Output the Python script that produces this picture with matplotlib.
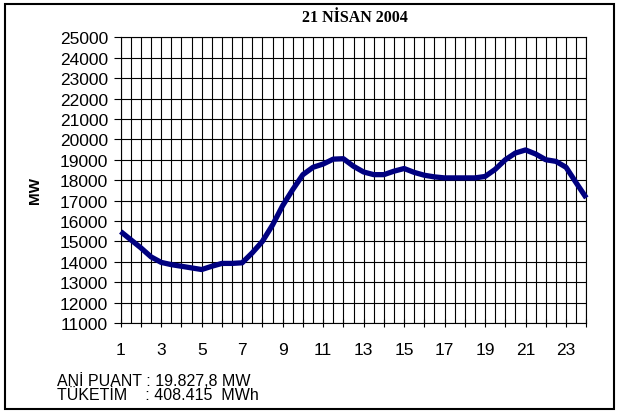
import matplotlib
matplotlib.use("Agg")
import matplotlib.pyplot as plt
from matplotlib.patches import Rectangle
import numpy as np

title = "21 NİSAN 2004"
ylabel = "MW"
hours = [1 + 0.5 * i for i in range(47)]
load_mw = [15480, 15080, 14680, 14240, 13970, 13860, 13780, 13700, 13620, 13780,
           13920, 13920, 13950, 14440, 15000, 15800, 16750, 17540, 18270, 18630,
           18790, 19030, 19050, 18680, 18400, 18270, 18270, 18440, 18570, 18380,
           18240, 18160, 18110, 18110, 18110, 18110, 18180, 18530, 19000, 19330,
           19480, 19280, 19000, 18920, 18630, 17870, 17130]
xtick_labels = [str(h) for h in range(1, 24, 2)]
yticks = list(range(11000, 25001, 1000))
footer_lines = ["ANİ PUANT : 19.827,8 MW", "TÜKETİM    : 408.415  MWh"]

W, H = 629, 414
fig = plt.figure(figsize=(W / 100, H / 100), dpi=100)
fig.patch.set_facecolor("white")

# outer frame
fig.add_artist(Rectangle((5 / W, 4 / H), (614 - 5) / W, (409 - 4) / H,
                         transform=fig.transFigure, fill=False,
                         edgecolor="black", linewidth=1.5))

ax = fig.add_axes([120.7 / W, 1 - 324 / H, (586.3 - 120.7) / W, (324 - 38.3) / H])
ax.set_xlim(1, 24)
ax.set_ylim(11000, 25000)

# grid
for h in hours:
    ax.axvline(h, color="black", linewidth=0.8, zorder=1)
for y in yticks:
    ax.axhline(y, color="black", linewidth=0.8, zorder=1)

ax.plot(hours, load_mw, color="#000080", linewidth=3.8, solid_joinstyle="round",
        solid_capstyle="butt", zorder=3, clip_on=False)

for s in ax.spines.values():
    s.set_color("black")
    s.set_linewidth(0.8)

ax.set_yticks(yticks)
ax.set_yticklabels([str(v) for v in yticks], fontsize=12.5, family="Liberation Sans")
ax.set_xticks(range(1, 25))
ax.set_xticklabels([str(h) if h % 2 == 1 else "" for h in range(1, 25)],
                   fontsize=12.5, family="Liberation Sans")
ax.tick_params(axis="x", direction="inout", length=6, width=0.8, pad=11)
ax.tick_params(axis="y", direction="out", length=5, width=0.8, pad=4)

fig.text(355 / W, 1 - 18 / H, title, ha="center", va="center",
         fontsize=11.5, fontweight="bold", family="Liberation Serif")
fig.text(35 / W, 1 - 190 / H, ylabel, ha="center", va="center", rotation=90,
         fontsize=11, fontweight="bold", family="Liberation Sans")
fig.text(57 / W, 1 - 381 / H, footer_lines[0], ha="left", va="center",
         fontsize=11.5, family="Liberation Sans")
fig.text(57 / W, 1 - 396 / H, footer_lines[1], ha="left", va="center",
         fontsize=11.5, family="Liberation Sans")

fig.savefig("out.png", dpi=100)
